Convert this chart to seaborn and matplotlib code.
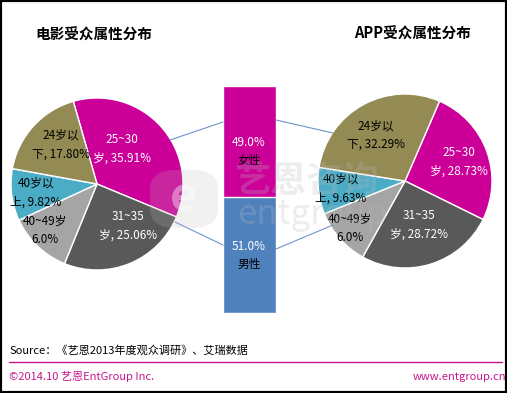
import numpy as np
import matplotlib
matplotlib.use("Agg")
import matplotlib.pyplot as plt
import seaborn as sns
import pandas as pd
from matplotlib.lines import Line2D
from matplotlib.patches import Rectangle, FancyBboxPatch

sns.set_theme(style="white")
plt.rcParams['font.family'] = ['Noto Sans CJK SC', 'DejaVu Sans']

# ---- data ----
age_groups = ["25~30岁", "31~35岁", "40~49岁", "40岁以上", "24岁以下"]
movie_values = [35.91, 25.06, 12.0, 9.82, 17.80]
movie_labels = ["25~30\n岁, 35.91%", "31~35\n岁, 25.06%", "40~49岁\n6.0%",
                "40岁以\n上, 9.82%", "24岁以\n下, 17.80%"]
app_values = [28.73, 28.72, 12.0, 9.63, 32.29]
app_labels = ["25~30\n岁, 28.73%", "31~35\n岁, 28.72%", "40~49岁\n6.0%",
              "40岁以\n上, 9.63%", "24岁以\n下, 32.29%"]
gender = ["女性", "男性"]
gender_values = [49.0, 51.0]
gender_labels = ["49.0%", "51.0%"]

colors = ["#CC0099", "#595959", "#A5A5A5", "#4BACC6", "#948A54"]
label_colors = ["white", "white", "black", "black", "black"]
female_color = "#CC0099"
male_color = "#4F81BD"
magenta_text = "#C8168C"

W, H = 507, 393
fig = plt.figure(figsize=(W / 100, H / 100), dpi=100)
fig.patch.set_facecolor("white")


def fx(x):
    return x / W


def fy(y):
    return 1 - y / H


def pie_axes(cx, cy, r):
    ax = fig.add_axes([fx(cx - r), fy(cy + r), 2 * r / W, 2 * r / H])
    ax.set_axis_off()
    return ax


# ---- left pie ----
ax1 = pie_axes(97, 184, 86)
ax1.pie(movie_values, colors=colors, startangle=106, counterclock=False,
        radius=1, wedgeprops=dict(edgecolor="white", linewidth=1.0))
ax1.set_xlim(-1, 1); ax1.set_ylim(-1, 1)

# ---- right pie ----
ax2 = pie_axes(405, 181, 87)
ax2.pie(app_values, colors=colors, startangle=66.6, counterclock=False,
        radius=1, wedgeprops=dict(edgecolor="white", linewidth=1.0))
ax2.set_xlim(-1, 1); ax2.set_ylim(-1, 1)

# label positions (pixels)
left_pos = [(122, 149), (128, 225.5), (45, 230.5), (36, 192.5), (61, 144.5)]
right_pos = [(459, 161.5), (419, 224.5), (350, 228.5), (341, 188.5), (376, 135)]
for lab, (x, y), c in zip(movie_labels, left_pos, label_colors):
    fig.text(fx(x), fy(y), lab, ha="center", va="center", fontsize=8.5,
             color=c, linespacing=1.55, zorder=5)
for lab, (x, y), c in zip(app_labels, right_pos, label_colors):
    fig.text(fx(x), fy(y), lab, ha="center", va="center", fontsize=8.5,
             color=c, linespacing=1.55, zorder=5)

# ---- center stacked bar ----
axb = fig.add_axes([fx(223), fy(313), 53 / W, 227 / H])
df_total = pd.DataFrame({"g": ["性别"], "v": [sum(gender_values)]})
df_male = pd.DataFrame({"g": ["性别"], "v": [gender_values[1]]})
sns.barplot(data=df_total, x="g", y="v", color=female_color, width=1,
            saturation=1, ax=axb)
sns.barplot(data=df_male, x="g", y="v", color=male_color, width=1,
            saturation=1, ax=axb)
axb.set_xlim(-0.5, 0.5)
axb.set_ylim(0, sum(gender_values))
axb.set_axis_off()

fig.text(fx(249), fy(142), gender_labels[0], ha="center", va="center",
         fontsize=8.5, color="white")
fig.text(fx(249), fy(160), gender[0], ha="center", va="center",
         fontsize=8.5, color="black")
fig.text(fx(249), fy(247), gender_labels[1], ha="center", va="center",
         fontsize=8.5, color="white")
fig.text(fx(249), fy(264), gender[1], ha="center", va="center",
         fontsize=8.5, color="black")

# ---- connector lines ----
line_color = "#6E94CC"
for (x0, y0), (x1, y1) in [((170, 140), (223, 122)), ((175, 222), (223, 245)),
                           ((276, 120), (333, 133)), ((276, 249), (333, 225))]:
    fig.add_artist(Line2D([fx(x0), fx(x1)], [fy(y0), fy(y1)],
                          transform=fig.transFigure, color=line_color,
                          linewidth=0.8, zorder=4))

# ---- titles ----
fig.text(fx(94), fy(35), "电影受众属性分布", ha="center", va="center",
         fontsize=10.5, fontweight="bold", color="black")
fig.text(fx(412), fy(34), "APP受众属性分布", ha="center", va="center",
         fontsize=10.5, fontweight="bold", color="black")

# ---- watermark (faint logo) ----
fig.add_artist(FancyBboxPatch((fx(150), fy(228)), 68 / W, 58 / H,
                              boxstyle="round,pad=0,rounding_size=0.05",
                              transform=fig.transFigure,
                              facecolor="#BBBBBB", edgecolor="none",
                              alpha=0.2, zorder=6))
fig.text(fx(184), fy(198), "e", ha="center", va="center", fontsize=34,
         fontweight="bold", color="white", alpha=0.4, zorder=7)
fig.text(fx(306), fy(181), "艺恩咨询", ha="center", va="center", fontsize=26,
         fontweight="bold", color="#BBBBBB", alpha=0.25, zorder=7)
fig.text(fx(312), fy(214), "entgroup", ha="center", va="center", fontsize=25,
         color="#BBBBBB", alpha=0.25, zorder=7)

# ---- footer ----
fig.text(fx(9), fy(350), "Source：《艺恩2013年度观众调研》、艾瑞数据",
         ha="left", va="center", fontsize=8, color="black")
fig.add_artist(Line2D([fx(9), fx(502)], [fy(361.5), fy(361.5)],
                      transform=fig.transFigure, color=magenta_text,
                      linewidth=1.0))
fig.text(fx(9), fy(377), "©2014.10 艺恩EntGroup Inc.", ha="left",
         va="center", fontsize=8, color=magenta_text)
fig.text(fx(413), fy(377), "www.entgroup.cn", ha="left", va="center",
         fontsize=8, color=magenta_text)

# ---- border ----
fig.add_artist(Rectangle((0, 0), 1, 1, transform=fig.transFigure, fill=False,
                         edgecolor="black", linewidth=3, zorder=10))

fig.savefig("out.png", dpi=100, facecolor="white")
